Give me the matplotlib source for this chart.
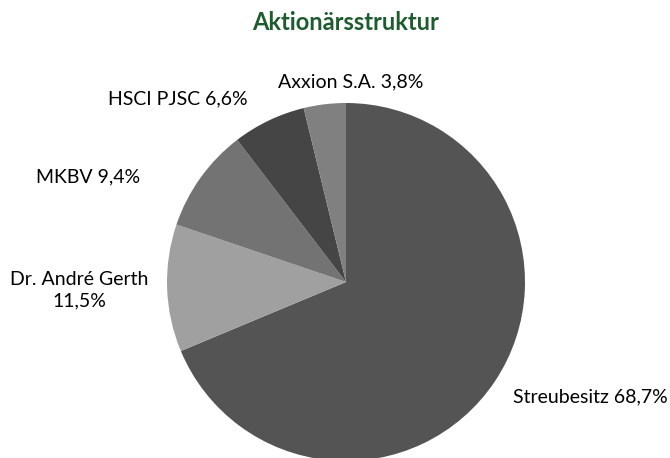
import matplotlib
matplotlib.use("Agg")
import matplotlib.pyplot as plt

categories = ["Streubesitz", "Dr. André Gerth", "MKBV", "HSCI PJSC", "Axxion S.A."]
values = [68.7, 11.5, 9.4, 6.6, 3.8]
colors = ["#545454", "#a0a0a0", "#737373", "#454545", "#808080"]
title = "Aktionärsstruktur"

plt.rcParams['font.family'] = ['Lato', 'DejaVu Sans']

W, H = 670, 458
fig = plt.figure(figsize=(W / 100, H / 100), dpi=100)
cx, cy, r = 346, 282, 179
ax = fig.add_axes([(cx - r) / W, (H - cy - r) / H, 2 * r / W, 2 * r / H])
wedges, _ = ax.pie(values, colors=colors, startangle=90, counterclock=False,
                   radius=1.0, wedgeprops=dict(linewidth=0))
for w in wedges:
    w.set_clip_on(False)
ax.set_xlim(-1, 1)
ax.set_ylim(-1, 1)
ax.set_aspect('equal')
ax.axis('off')

def fmt(v):
    return f"{v:.1f}".replace('.', ',') + "%"

# label positions in pixel coords (x, y, ha)
label_pos = [
    (590, 397, 'center', f"{categories[0]} {fmt(values[0])}"),
    (79, 290, 'center', f"{categories[1]}\n{fmt(values[1])}"),
    (88, 177, 'center', f"{categories[2]} {fmt(values[2])}"),
    (178, 99, 'center', f"{categories[3]} {fmt(values[3])}"),
    (351, 82, 'center', f"{categories[4]} {fmt(values[4])}"),
]
for x, y, ha, t in label_pos:
    fig.text(x / W, 1 - y / H, t, ha=ha, va='center', fontsize=14,
             color='#000000', linespacing=1.3)

fig.text(346 / W, 1 - 23 / H, title, ha='center', va='center', fontsize=17,
         fontweight='bold', color='#1e5b2e')

fig.savefig("out.png", dpi=100)
